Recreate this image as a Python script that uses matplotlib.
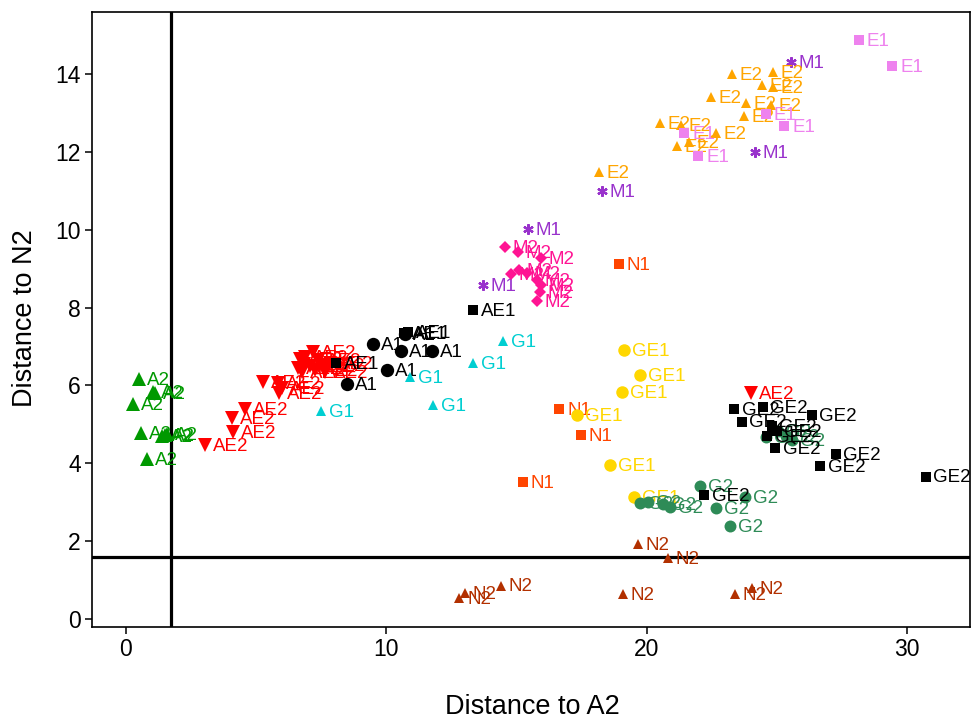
import matplotlib
matplotlib.use("Agg")
import matplotlib.pyplot as plt

plt.rcParams['font.family'] = ['Liberation Sans', 'DejaVu Sans']

# ---- data (Distance to A2, Distance to N2) ----
A2_x = [0.50, 1.04, 1.11, 0.27, 0.58, 1.38, 1.58, 1.48, 0.81]
A2_y = [6.16, 5.83, 5.81, 5.52, 4.78, 4.70, 4.75, 4.72, 4.11]

AE2_x = [7.18, 6.88, 6.68, 7.38, 6.84, 7.07, 6.61, 7.53, 7.84, 6.76, 7.26, 7.65,
         5.26, 5.84, 5.99, 5.88, 4.57, 4.07, 4.11, 3.03, 24.01]
AE2_y = [6.86, 6.73, 6.68, 6.65, 6.55, 6.50, 6.45, 6.52, 6.58, 6.34, 6.40, 6.34,
         6.09, 6.06, 5.93, 5.81, 5.39, 5.16, 4.80, 4.47, 5.81]

A1_x = [9.49, 10.72, 10.56, 11.76, 10.03, 8.49]
A1_y = [7.06, 7.32, 6.88, 6.88, 6.40, 6.04]

AE1_x = [8.07, 10.68, 10.83, 13.33]
AE1_y = [6.58, 7.35, 7.37, 7.94]

G1_x = [14.48, 13.33, 10.91, 11.79, 7.49]
G1_y = [7.15, 6.58, 6.22, 5.50, 5.34]

M1_x = [15.44, 13.72, 18.29, 25.55, 24.16]
M1_y = [10.02, 8.58, 10.99, 14.31, 11.99]

M2_x = [14.56, 15.06, 15.94, 14.79, 15.10, 15.41, 15.79, 15.94, 15.90, 15.79]
M2_y = [9.56, 9.43, 9.27, 8.86, 8.96, 8.89, 8.71, 8.58, 8.40, 8.17]

E2_x = [23.28, 24.86, 24.43, 24.86, 22.47, 23.82, 24.78, 23.74, 20.51, 21.32,
        22.67, 21.63, 21.17, 18.17]
E2_y = [14.00, 14.05, 13.72, 13.67, 13.41, 13.25, 13.20, 12.92, 12.74, 12.69,
        12.48, 12.25, 12.15, 11.48]

E1_x = [28.17, 29.44, 25.29, 24.59, 21.45, 21.99]
E1_y = [14.87, 14.21, 12.65, 12.96, 12.48, 11.88]

N1_x = [18.95, 16.65, 17.47, 15.24]
N1_y = [9.11, 5.39, 4.73, 3.51]

GE1_x = [19.13, 19.75, 19.07, 17.34, 18.59, 19.53]
GE1_y = [6.91, 6.27, 5.84, 5.24, 3.96, 3.14]

G2_x = [22.05, 22.67, 23.20, 19.75, 20.05, 20.63, 20.90, 23.78, 24.59, 25.05, 25.36, 25.59]
G2_y = [3.42, 2.85, 2.39, 2.98, 3.01, 2.95, 2.88, 3.13, 4.68, 4.83, 4.70, 4.60]

GE2_x = [23.37, 24.46, 23.65, 26.34, 24.80, 25.00, 24.64, 24.93, 27.26, 26.66, 30.72, 22.21]
GE2_y = [5.39, 5.45, 5.07, 5.24, 4.96, 4.83, 4.70, 4.38, 4.24, 3.93, 3.66, 3.19]

N2_x = [19.68, 20.81, 14.41, 13.02, 12.81, 19.08, 23.40, 24.04]
N2_y = [1.93, 1.56, 0.86, 0.66, 0.53, 0.64, 0.63, 0.79]

cut_x = 1.72
cut_y = 1.585

x_ticks = [0, 10, 20, 30]
y_ticks = [0, 2, 4, 6, 8, 10, 12, 14]

# ---- styles: (label, x, y, marker, size(pt), color) ----
groups = [
    ("A2", A2_x, A2_y, '^', 9.4, '#009900'),
    ("AE2", AE2_x, AE2_y, 'v', 9.4, '#FF0000'),
    ("A1", A1_x, A1_y, 'o', 9.6, '#000000'),
    ("AE1", AE1_x, AE1_y, 's', 7.4, '#000000'),
    ("G1", G1_x, G1_y, '^', 7.8, '#00CED1'),
    ("M1", M1_x, M1_y, (6, 2, 0), 7.5, '#9932CC'),
    ("M2", M2_x, M2_y, 'D', 5.8, '#FF1493'),
    ("E2", E2_x, E2_y, '^', 7.8, '#FFA500'),
    ("E1", E1_x, E1_y, 's', 6.8, '#EE82EE'),
    ("N1", N1_x, N1_y, 's', 6.8, '#FF4500'),
    ("GE1", GE1_x, GE1_y, 'o', 9.0, '#FFD700'),
    ("G2", G2_x, G2_y, 'o', 8.6, '#2E8B57'),
    ("GE2", GE2_x, GE2_y, 's', 6.8, '#000000'),
    ("N2", N2_x, N2_y, '^', 7.8, '#B23000'),
]

fig = plt.figure(figsize=(9.71, 7.2), dpi=100)
ax = fig.add_axes([92/971, 1 - 627/720, (970 - 92)/971, (627 - 12)/720])

ax.axvline(cut_x, color='black', lw=2.3, zorder=1)
ax.axhline(cut_y, color='black', lw=2.3, zorder=1)

z = 2
for name, xs, ys, mk, ms, col in groups:
    if isinstance(mk, tuple):
        ax.plot(xs, ys, linestyle='none', marker=mk, markersize=ms,
                markeredgecolor=col, markeredgewidth=1.6, color=col, zorder=z)
    else:
        ax.plot(xs, ys, linestyle='none', marker=mk, markersize=ms,
                markerfacecolor=col, markeredgewidth=0, zorder=z)
    for xv, yv in zip(xs, ys):
        ax.annotate(name, (xv, yv), xytext=(5.5, -1.0), textcoords='offset points',
                    ha='left', va='center', fontsize=13.5, color=col, zorder=z + 0.5)
    z += 1

ax.set_xlim(-1.306, 32.42)
ax.set_ylim(-0.205, 15.59)
ax.set_xticks(x_ticks)
ax.set_yticks(y_ticks)
ax.set_xticklabels([str(t) for t in x_ticks])
ax.set_yticklabels([str(t) for t in y_ticks])
ax.tick_params(axis='both', labelsize=16.5, length=5, width=1.1, pad=3, direction='out')
for s in ax.spines.values():
    s.set_linewidth(1.2)
    s.set_color('black')

fig.text(532/971, 1 - 707/720, "Distance to A2", ha='center', va='center', fontsize=19.5)
fig.text(25/971, 1 - 318/720, "Distance to N2", ha='center', va='center', fontsize=19.5,
         rotation=90)

fig.savefig("out.png", dpi=100)
